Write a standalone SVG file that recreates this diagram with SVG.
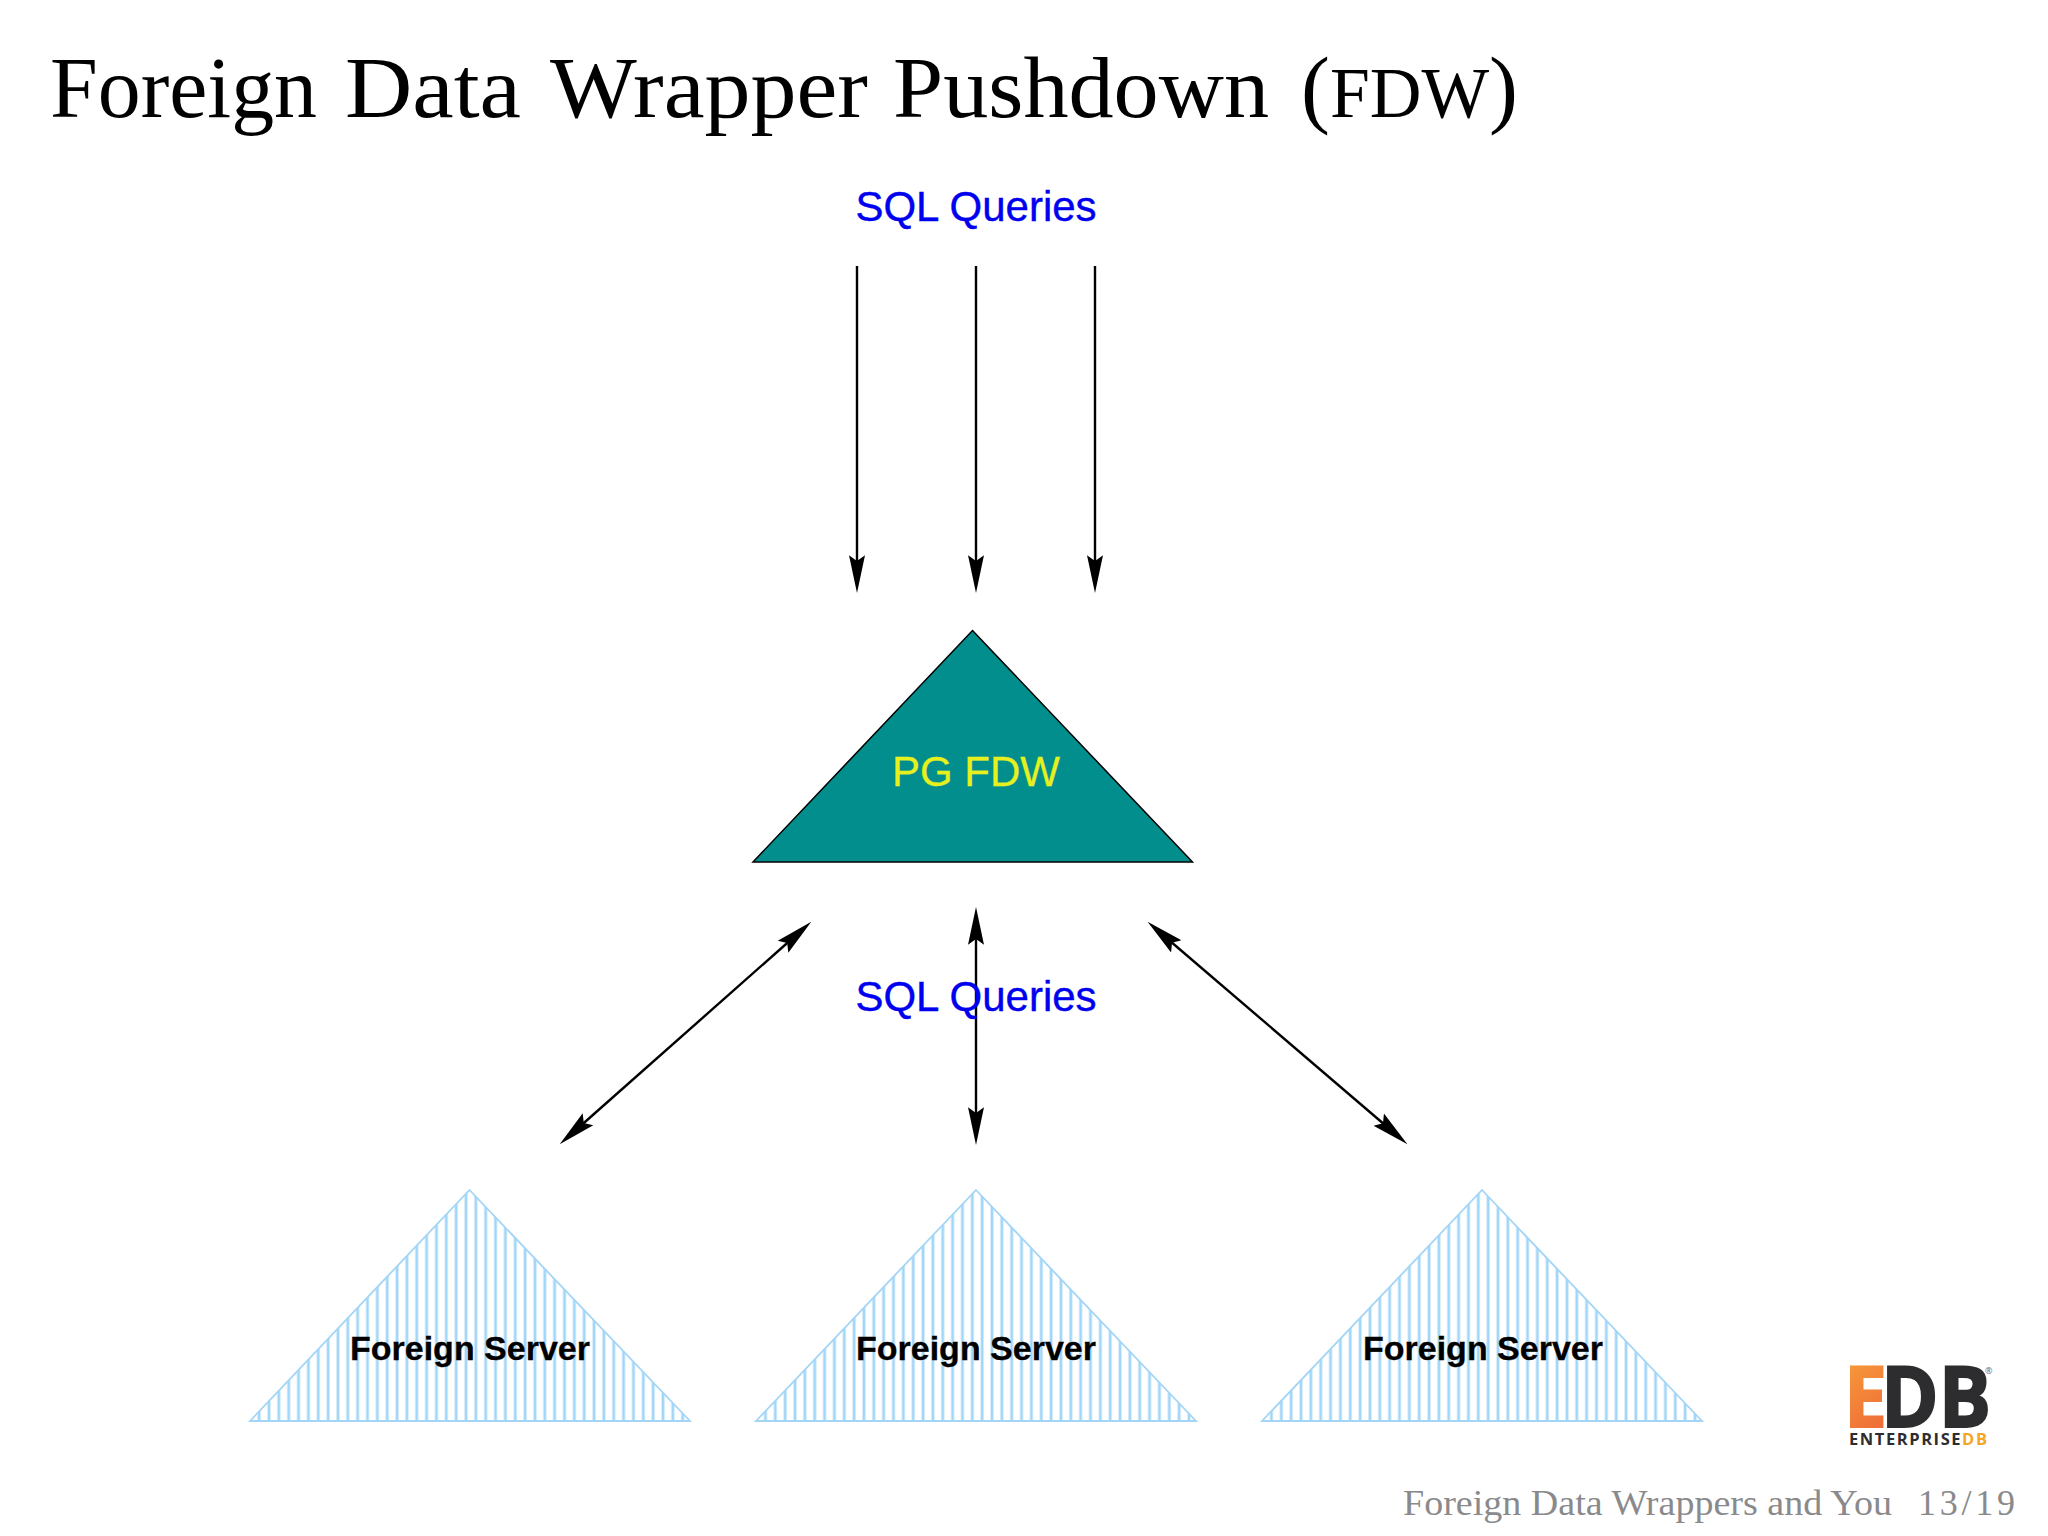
<svg xmlns="http://www.w3.org/2000/svg" xmlns:xlink="http://www.w3.org/1999/xlink" width="2048" height="1536" viewBox="0 0 2048 1536">
<style>
.sql{font:42px "Liberation Sans",Arial,sans-serif;fill:#0000f0;stroke:#0000f0;stroke-width:.4;text-anchor:middle}
.fs{font:bold 34px "Liberation Sans",Arial,sans-serif;fill:#000;stroke:#000;stroke-width:.3;text-anchor:middle}
.pg{font:42px "Liberation Sans",Arial,sans-serif;fill:#e6f01e;stroke:#e6f01e;stroke-width:.3;text-anchor:middle}
.conn line{stroke:#000;stroke-width:2.4;fill:none;marker-end:url(#ah)}
.conn line.both{marker-start:url(#ah)}
.tri{stroke:#a3d5f6;stroke-width:1.8}
.title{font-family:"Liberation Serif","Times New Roman",serif;fill:#000}
.foot{font-family:"Liberation Serif","Times New Roman",serif;font-size:36px;fill:#8a8a8c}
.logo{font-family:"Open Sans",sans-serif;font-weight:700}
</style>
<defs>
<marker id="ah" markerUnits="userSpaceOnUse" markerWidth="40" markerHeight="20" refX="24" refY="8" orient="auto-start-reverse" viewBox="0 0 36 16">
<path d="M34 8 L0 0.8 L5 8 L0 15.2 Z" fill="#000"/>
</marker>
<pattern id="st1" patternUnits="userSpaceOnUse" x="464" y="0" width="9.85" height="20">
<rect width="9.85" height="20" fill="#fff"/><rect x="0.6" width="2.8" height="20" fill="#a2d6f9"/>
</pattern>
<pattern id="st2" xlink:href="#st1" href="#st1" x="970.3"/>
<pattern id="st3" xlink:href="#st1" href="#st1" x="1476.3"/>
<linearGradient id="eg" x1="0" y1="0" x2="1" y2="1"><stop offset="0" stop-color="#f9a63a"/><stop offset="0.55" stop-color="#ee6a38"/><stop offset="1" stop-color="#f08a3a"/></linearGradient>
</defs>
<rect width="2048" height="1536" fill="#fff"/>
<text class="title" y="117" font-size="86"><tspan x="50" textLength="267" lengthAdjust="spacingAndGlyphs">Foreign</tspan> <tspan x="345" textLength="176" lengthAdjust="spacingAndGlyphs">Data</tspan> <tspan x="550" textLength="318" lengthAdjust="spacingAndGlyphs">Wrapper</tspan> <tspan x="893" textLength="376" lengthAdjust="spacingAndGlyphs">Pushdown</tspan> <tspan x="1301" textLength="217" lengthAdjust="spacingAndGlyphs">(<tspan font-size="71">FDW</tspan>)</tspan></text>
<text id="label-top" class="sql" x="976" y="221">SQL Queries</text>
<g id="conn" class="conn">
<line x1="857" y1="266" x2="857" y2="582"/>
<line x1="976" y1="266" x2="976" y2="582"/>
<line x1="1095" y1="266" x2="1095" y2="582"/>
<line class="both" x1="803" y1="929" x2="568" y2="1137"/>
<line class="both" x1="976" y1="918" x2="976" y2="1134"/>
<line class="both" x1="1156" y1="929" x2="1399" y2="1137"/>
</g>
<g id="pg-fdw">
<path d="M972.5 630.5 L1192.5 862 H753 Z" fill="#028e8c" stroke="#000" stroke-width="1.5"/>
<text class="pg" x="976" y="786">PG FDW</text>
</g>
<text id="label-mid" class="sql" x="976" y="1011">SQL Queries</text>
<g id="foreign-1">
<path class="tri" d="M469.5 1190 L690 1421 H250 Z" fill="url(#st1)"/>
<text class="fs" x="470" y="1360">Foreign Server</text>
</g>
<g id="foreign-2">
<path class="tri" d="M976 1190 L1196 1421 H756 Z" fill="url(#st2)"/>
<text class="fs" x="976" y="1360">Foreign Server</text>
</g>
<g id="foreign-3">
<path class="tri" d="M1482 1190 L1702 1421 H1262 Z" fill="url(#st3)"/>
<text class="fs" x="1483" y="1360">Foreign Server</text>
</g>
<g id="logo">
<text class="logo" y="1427" font-size="84" stroke-width="2"><tspan x="1844" textLength="43" lengthAdjust="spacingAndGlyphs" fill="url(#eg)" stroke="url(#eg)">E</tspan><tspan x="1881" textLength="110" lengthAdjust="spacingAndGlyphs" fill="#2d2d2f" stroke="#2d2d2f">DB</tspan><tspan x="1985" y="1374" font-size="9" font-weight="400" fill="#666" stroke="none">®</tspan></text>
<text class="logo" x="1849" y="1445" font-size="16.5" fill="#2d2d2f" textLength="138" lengthAdjust="spacing">ENTERPRISE<tspan fill="#f5a623">DB</tspan></text>
</g>
<text class="foot" x="1403" y="1515" textLength="489" lengthAdjust="spacingAndGlyphs">Foreign Data Wrappers and You</text>
<text class="foot" x="1918" y="1515" textLength="97" lengthAdjust="spacing">13/19</text>
</svg>
